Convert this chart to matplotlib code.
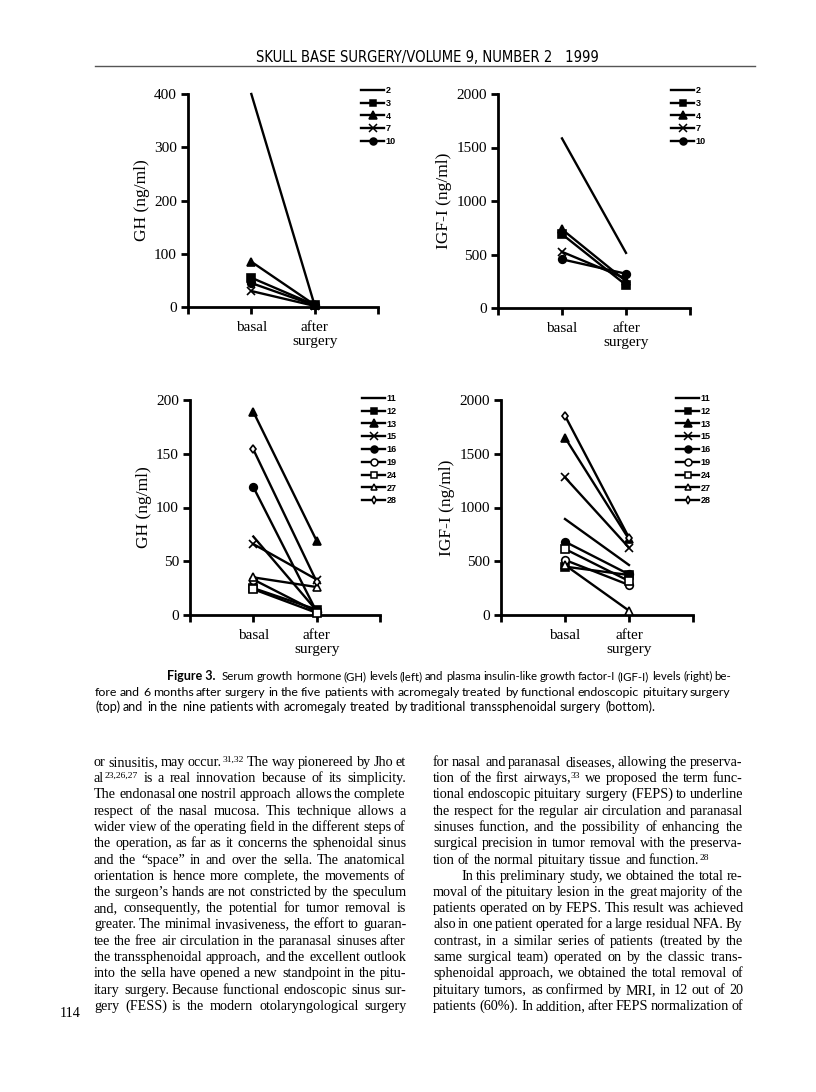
import numpy as np
import matplotlib
matplotlib.use('Agg')
import matplotlib.pyplot as plt
from matplotlib.lines import Line2D

# ---------------------------------------------------------------
# data
top_ids = ['2', '3', '4', '7', '10']
top_gh_basal = [400, 55, 85, 30, 45]
top_gh_after = [3, 4, 4, 2, 3]
top_igf_basal = [1585, 690, 735, 525, 455]
top_igf_after = [515, 215, 250, 275, 320]

bot_ids = ['11', '12', '13', '15', '16', '19', '24', '27', '28']
bot_gh_basal = [73, 25, 189, 66, 119, 33, 24, 35, 154]
bot_gh_after = [4, 5, 69, 33, 3, 3, 2, 26, 31]
bot_igf_basal = [893, 450, 1650, 1280, 682, 512, 614, 465, 1854]
bot_igf_after = [465, 372, 705, 626, 378, 279, 316, 40, 719]

cats = ['basal', 'after\nsurgery']

# marker style per patient id  (marker, filled?, size)
mstyle = {'2': (None, True, 0), '3': ('s', True, 5.5), '4': ('^', True, 6),
          '7': ('x', True, 6), '10': ('o', True, 5.5),
          '11': (None, True, 0), '12': ('s', True, 5.5), '13': ('^', True, 6),
          '15': ('x', True, 6), '16': ('o', True, 5.5), '19': ('o', False, 5.5),
          '24': ('s', False, 5.5), '27': ('^', False, 5.5), '28': ('d', False, 4.5)}

W, H = 816, 1092
fig = plt.figure(figsize=(W / 100, H / 100), dpi=100)
fig.patch.set_facecolor('white')

serif = 'Liberation Serif'
sans = 'Liberation Sans'


def box(x0, x1, ytop, ybot):
    return [x0 / W, 1 - ybot / H, (x1 - x0) / W, (ybot - ytop) / H]


def panel(rect, ids, basal, after, ymax, ystep, ylabel, leg_xy):
    ax = fig.add_axes(rect)
    for i, pid in enumerate(ids):
        m, filled, ms = mstyle[pid]
        ax.plot([1, 2], [basal[i], after[i]], color='black', lw=1.7,
                marker=m, ms=ms, mew=1.2, mec='black',
                mfc='black' if filled else 'white', zorder=3, clip_on=False)
    ax.set_xlim(0, 3)
    ax.set_ylim(0, ymax)
    for s in ['top', 'right']:
        ax.spines[s].set_visible(False)
    for s in ['left', 'bottom']:
        ax.spines[s].set_linewidth(2.0)
    ax.set_xticks([0, 1, 2, 3])
    ax.set_xticklabels([''] + cats + [''], fontfamily=serif, fontsize=11,
                       linespacing=1.1)
    ax.set_yticks(np.arange(0, ymax + 1, ystep))
    ax.set_yticklabels([str(int(v)) for v in np.arange(0, ymax + 1, ystep)],
                       fontfamily=serif, fontsize=11)
    ax.tick_params(axis='both', width=2.0, length=5, direction='out', pad=3)
    ax.tick_params(axis='x', pad=5)
    ax.set_ylabel(ylabel, fontfamily=serif, fontsize=12.5, labelpad=3)

    handles = []
    for pid in ids:
        m, filled, ms = mstyle[pid]
        handles.append(Line2D([0], [0], color='black', lw=1.7, marker=m,
                              ms=ms - 0.5 if ms else 0, mew=1.1, mec='black',
                              mfc='black' if filled else 'white'))
    fig.legend(handles, ids, loc='upper left',
               bbox_to_anchor=(leg_xy[0] / W, 1 - leg_xy[1] / H),
               frameon=False, handlelength=2.6, handletextpad=0.15,
               labelspacing=0.42, borderpad=0, borderaxespad=0,
               prop={'family': sans, 'weight': 'bold', 'size': 6.5})
    return ax


panel(box(188, 378, 94, 307), top_ids, top_gh_basal, top_gh_after,
      400, 100, 'GH (ng/ml)', (361, 86))
panel(box(498, 690, 94, 308), top_ids, top_igf_basal, top_igf_after,
      2000, 500, 'IGF-I (ng/ml)', (671, 86))
panel(box(190, 380, 400, 615), bot_ids, bot_gh_basal, bot_gh_after,
      200, 50, 'GH (ng/ml)', (362, 394))
panel(box(501, 693, 400, 615), bot_ids, bot_igf_basal, bot_igf_after,
      2000, 500, 'IGF-I (ng/ml)', (676, 394))

# ---------------------------------------------------------------
# page text
fig.text(427 / W, 1 - 57 / H, 'SKULL BASE SURGERY/VOLUME 9, NUMBER 2   1999',
         family='DejaVu Sans', stretch='condensed', fontsize=10.6,
         ha='center', va='center')
fig.add_artist(Line2D([95 / W, 755 / W], [1 - 66 / H, 1 - 66 / H],
                      color='#555555', lw=1.0))

renderer = fig.canvas.get_renderer()


def measure(s, **kw):
    t = fig.text(0, 0, s, **kw)
    w = t.get_window_extent(renderer).width
    t.remove()
    return w


def layout(line, kw, sup_kw):
    parts = []
    for wd in line.split(' '):
        if '^' in wd:
            base, sup = wd.split('^')
        else:
            base, sup = wd, ''
        wb = measure(base, **kw) if base else 0
        ws = measure(sup, **sup_kw) + 1 if sup else 0
        parts.append((base, sup, wb, ws))
    space = measure('a a', **kw) - measure('aa', **kw)
    return parts, space


def draw_line(line, x0, x1, yb, kw, justify=True, sup_kw=None):
    kw = dict(kw)
    # shrink the type a little if a justified line cannot fit
    while True:
        parts, space = layout(line, kw, sup_kw)
        total = sum(p[2] + p[3] for p in parts)
        if justify and len(parts) > 1:
            gap = (x1 - x0 - total) / (len(parts) - 1)
        else:
            gap = space
        if gap >= 0.7 * space or kw['fontsize'] < 6:
            break
        kw['fontsize'] -= 0.1
    yb = round(yb)
    x = x0
    for base, sup, wb, ws in parts:
        xr = round(x)
        if base:
            fig.text(xr / W, 1 - yb / H, base, va='baseline', ha='left', **kw)
        if sup:
            fig.text(round(x + wb + 0.5) / W, 1 - (yb - 4) / H, sup,
                     va='baseline', ha='left', **sup_kw)
        x += wb + ws + gap


cap_kw = dict(family='Lato', fontsize=9.0)
fig_lbl_kw = dict(family='Lato', fontsize=9.0, weight='bold')
fig.text(167 / W, 1 - 680 / H, 'Figure 3.', va='baseline', ha='left',
         **fig_lbl_kw)
cap_start = 167 + measure('Figure 3.', **fig_lbl_kw) + 7
cap_lines = [
    ('Serum growth hormone (GH) levels (left) and plasma insulin-like growth factor-I (IGF-I) levels (right) be-', cap_start, True),
    ('fore and 6 months after surgery in the five patients with acromegaly treated by functional endoscopic pituitary surgery', 95, True),
    ('(top) and in the nine patients with acromegaly treated by traditional transsphenoidal surgery (bottom).', 95, False),
]
for k, (s, xs, j) in enumerate(cap_lines):
    draw_line(s, xs, 731, 680 + 15.6 * k, cap_kw, justify=j)

body_kw = dict(family=serif, fontsize=10.2)
sup_kw = dict(family=serif, fontsize=6.8)

left_col = [
    'or sinusitis, may occur.^31,32 The way pionereed by Jho et',
    'al^23,26,27 is a real innovation because of its simplicity.',
    'The endonasal one nostril approach allows the complete',
    'respect of the nasal mucosa. This technique allows a',
    'wider view of the operating field in the different steps of',
    'the operation, as far as it concerns the sphenoidal sinus',
    'and the \u201cspace\u201d in and over the sella. The anatomical',
    'orientation is hence more complete, the movements of',
    'the surgeon\u2019s hands are not constricted by the speculum',
    'and, consequently, the potential for tumor removal is',
    'greater. The minimal invasiveness, the effort to guaran-',
    'tee the free air circulation in the paranasal sinuses after',
    'the transsphenoidal approach, and the excellent outlook',
    'into the sella have opened a new standpoint in the pitu-',
    'itary surgery. Because functional endoscopic sinus sur-',
    'gery (FESS) is the modern otolaryngological surgery',
]
right_col = [
    'for nasal and paranasal diseases, allowing the preserva-',
    'tion of the first airways,^33 we proposed the term func-',
    'tional endoscopic pituitary surgery (FEPS) to underline',
    'the respect for the regular air circulation and paranasal',
    'sinuses function, and the possibility of enhancing the',
    'surgical precision in tumor removal with the preserva-',
    'tion of the normal pituitary tissue and function.^28',
    'In this preliminary study, we obtained the total re-',
    'moval of the pituitary lesion in the great majority of the',
    'patients operated on by FEPS. This result was achieved',
    'also in one patient operated for a large residual NFA. By',
    'contrast, in a similar series of patients (treated by the',
    'same surgical team) operated on by the classic trans-',
    'sphenoidal approach, we obtained the total removal of',
    'pituitary tumors, as confirmed by MRI, in 12 out of 20',
    'patients (60%). In addition, after FEPS normalization of',
]

for k, s in enumerate(left_col):
    draw_line(s, 94, 406, 766 + 16.25 * k, body_kw, True, sup_kw)
for k, s in enumerate(right_col):
    x0 = 461 if k == 7 else 433
    draw_line(s, x0, 743, 766 + 16.25 * k, body_kw, k != 6, sup_kw)

fig.text(60 / W, 1 - 1017 / H, '114', va='baseline', ha='left', **body_kw)

fig.savefig('out.png', dpi=100, facecolor='white')
